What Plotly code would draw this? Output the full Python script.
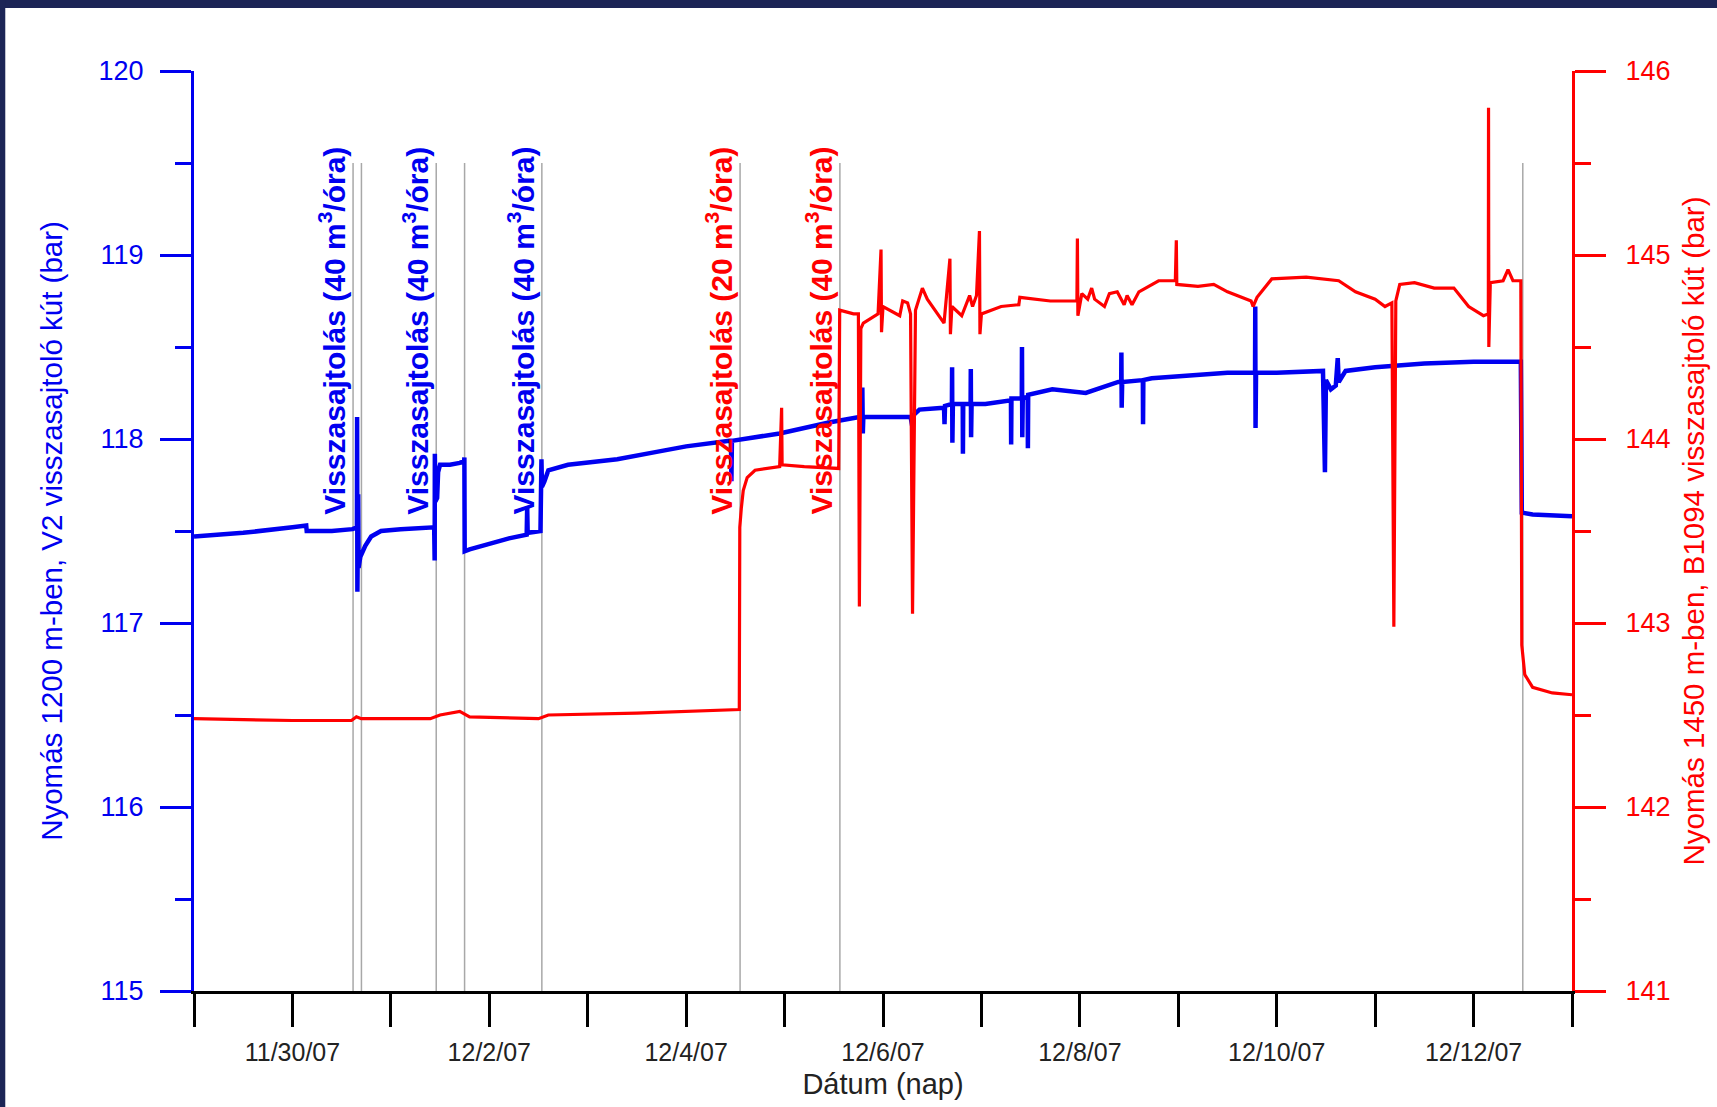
import pandas as pd
import plotly.graph_objects as go

# ---------------- data ----------------
START = pd.Timestamp("2007-11-29")

# V2 well, 1200 m (left axis) : day offset from 11/29/07 00:00, pressure (bar)
blue_days = [0.00, 0.50, 1.00, 1.14, 1.145, 1.40, 1.61, 1.655, 1.657, 1.660, 1.668, 1.672, 1.69, 1.74, 1.80, 1.90,
             2.10, 2.44, 2.445, 2.447, 2.452, 2.47, 2.48, 2.50, 2.60, 2.70, 2.745, 2.747, 2.750, 2.80, 3.00, 3.20,
             3.38, 3.385, 3.39, 3.52, 3.53, 3.535, 3.56, 3.60, 3.80, 4.00, 4.30, 4.70, 5.00, 5.44, 5.455, 5.46,
             5.465, 5.95, 6.45, 6.76, 6.785, 6.79, 6.795, 6.80, 7.28, 7.30, 7.31, 7.37, 7.62, 7.625, 7.63, 7.70,
             7.702, 7.705, 7.71, 7.81, 7.812, 7.815, 7.89, 7.892, 7.895, 7.90, 8.04, 8.30, 8.302, 8.305, 8.41,
             8.412, 8.415, 8.42, 8.47, 8.472, 8.475, 8.72, 9.06, 9.39, 9.42, 9.422, 9.425, 9.43, 9.64, 9.642,
             9.645, 9.73, 10.21, 10.50, 10.78, 10.782, 10.785, 10.79, 11.00, 11.47, 11.49, 11.50, 11.55, 11.60,
             11.62, 11.63, 11.70, 12.00, 12.50, 13.00, 13.48, 13.49, 13.60, 14.00]
blue_vals = [117.47, 117.49, 117.52, 117.53, 117.50, 117.50, 117.51, 117.52, 118.12, 117.17, 117.70, 117.30, 117.36,
             117.42, 117.47, 117.50, 117.51, 117.52, 117.34, 117.92, 117.66, 117.68, 117.82, 117.86, 117.86, 117.87,
             117.88, 117.90, 117.39, 117.40, 117.43, 117.46, 117.48, 117.63, 117.49, 117.50, 117.89, 117.74, 117.77,
             117.83, 117.86, 117.87, 117.89, 117.93, 117.96, 117.99, 117.99, 117.77, 117.99, 118.03, 118.09, 118.12,
             118.12, 118.28, 118.03, 118.12, 118.12, 118.06, 118.13, 118.16, 118.17, 118.08, 118.18, 118.19, 118.39,
             117.98, 118.19, 118.19, 117.92, 118.19, 118.19, 118.38, 118.01, 118.19, 118.19, 118.21, 117.97, 118.22,
             118.22, 118.50, 118.01, 118.22, 118.23, 117.95, 118.24, 118.27, 118.25, 118.31, 118.31, 118.47, 118.17,
             118.31, 118.32, 118.08, 118.32, 118.33, 118.35, 118.36, 118.36, 118.72, 118.06, 118.36, 118.36, 118.37,
             117.82, 118.32, 118.27, 118.29, 118.44, 118.31, 118.37, 118.39, 118.41, 118.42, 118.42, 117.60, 117.59,
             117.58]

# B1094 well, 1450 m (right axis)
red_days = [0.00, 1.00, 1.60, 1.65, 1.70, 2.40, 2.50, 2.70, 2.80, 3.50, 3.60, 4.50, 5.54, 5.545, 5.56, 5.58, 5.62,
            5.70, 5.95, 5.97, 5.975, 6.20, 6.55, 6.56, 6.70, 6.75, 6.76, 6.775, 6.80, 6.95, 6.98, 6.985, 7.00, 7.17,
            7.20, 7.25, 7.28, 7.30, 7.33, 7.37, 7.40, 7.45, 7.62, 7.68, 7.685, 7.70, 7.80, 7.88, 7.91, 7.95, 7.98,
            7.985, 8.00, 8.20, 8.38, 8.39, 8.70, 8.97, 8.975, 8.98, 9.02, 9.08, 9.12, 9.15, 9.25, 9.30, 9.38, 9.45,
            9.48, 9.53, 9.60, 9.80, 9.97, 9.98, 9.985, 10.20, 10.36, 10.50, 10.74, 10.76, 10.80, 10.95, 11.30, 11.63,
            11.80, 12.00, 12.10, 12.17, 12.19, 12.21, 12.25, 12.40, 12.60, 12.80, 12.95, 13.10, 13.15, 13.152,
            13.155, 13.17, 13.30, 13.35, 13.40, 13.48, 13.49, 13.52, 13.60, 13.80, 14.00]
red_vals = [142.48, 142.47, 142.47, 142.49, 142.48, 142.48, 142.50, 142.52, 142.49, 142.48, 142.50, 142.51, 142.53,
            143.52, 143.62, 143.72, 143.79, 143.83, 143.85, 144.17, 143.86, 143.85, 143.84, 144.70, 144.68, 144.68,
            143.09, 144.60, 144.63, 144.68, 145.03, 144.58, 144.72, 144.67, 144.75, 144.74, 144.68, 143.05, 144.70,
            144.77, 144.82, 144.76, 144.63, 144.98, 144.57, 144.72, 144.67, 144.78, 144.72, 144.78, 145.13, 144.57,
            144.68, 144.72, 144.73, 144.77, 144.75, 144.75, 145.09, 144.67, 144.79, 144.76, 144.82, 144.76, 144.72,
            144.79, 144.80, 144.73, 144.78, 144.73, 144.80, 144.86, 144.86, 145.08, 144.84, 144.83, 144.84, 144.80,
            144.75, 144.72, 144.77, 144.87, 144.88, 144.86, 144.80, 144.76, 144.72, 144.74, 142.98, 144.75, 144.84,
            144.85, 144.82, 144.82, 144.72, 144.67, 144.68, 145.80, 144.50, 144.85, 144.86, 144.92, 144.86, 144.86,
            142.88, 142.72, 142.65, 142.62, 142.61]

# injection events (day offsets) drawn as grey vertical lines
event_days = [1.616, 1.701, 2.461, 2.749, 3.534, 5.548, 6.562, 13.50]
# labelled events
label_days = [1.616, 2.461, 3.534, 5.548, 6.562]
label_texts = ["Visszasajtolás (40 m<sup>3</sup>/óra)", "Visszasajtolás (40 m<sup>3</sup>/óra)",
               "Visszasajtolás (40 m<sup>3</sup>/óra)", "Visszasajtolás (20 m<sup>3</sup>/óra)",
               "Visszasajtolás (40 m<sup>3</sup>/óra)"]
label_series = ["blue", "blue", "blue", "red", "red"]

BLUE = "#0000f0"
RED = "#ff0000"
FONT = "Liberation Sans, Arial, sans-serif"
DAY_MS = 86400000


def to_date(d):
    return (START + pd.to_timedelta(d, unit="D")).strftime("%Y-%m-%d %H:%M:%S.%f")


fig = go.Figure()
fig.add_trace(go.Scatter(x=[to_date(d) for d in red_days], y=red_vals, yaxis="y2", mode="lines",
                         line=dict(color=RED, width=3.2), showlegend=False))
fig.add_trace(go.Scatter(x=[to_date(d) for d in blue_days], y=blue_vals, yaxis="y", mode="lines",
                         line=dict(color=BLUE, width=4.5), showlegend=False))

shapes = []
for d in event_days:
    shapes.append(dict(type="line", xref="x", yref="y", x0=to_date(d), x1=to_date(d), y0=115, y1=119.5,
                       line=dict(color="#a8a8a8", width=1.5), layer="below"))
# dark frame (top and left edges)
shapes.append(dict(type="rect", xref="paper", yref="paper", x0=-0.2, x1=1.2, y0=(991 - 8) / 920, y1=1.2,
                   fillcolor="#1c2556", line=dict(width=0), layer="above"))
shapes.append(dict(type="rect", xref="paper", yref="paper", x0=-0.2, x1=(5 - 194) / 1380, y0=-0.2, y1=1.2,
                   fillcolor="#1c2556", line=dict(width=0), layer="above"))

annotations = []
for d, t, s in zip(label_days, label_texts, label_series):
    annotations.append(dict(x=to_date(d), y=119.6, xref="x", yref="y", text=t, showarrow=False,
                            textangle=-90, xanchor="center", yanchor="top", xshift=-21,
                            font=dict(family=FONT, size=30, color=BLUE if s == "blue" else RED,
                                      weight="bold")))

fig.update_layout(
    width=1717, height=1107,
    margin=dict(l=194, r=143, t=71, b=116),
    paper_bgcolor="white", plot_bgcolor="white",
    font=dict(family=FONT),
    shapes=shapes, annotations=annotations,
    xaxis=dict(type="date", range=[to_date(0), to_date(14)], showgrid=False, zeroline=False,
               showline=True, linecolor="black", linewidth=3,
               tickmode="linear", tick0="2007-11-30", dtick=2 * DAY_MS, tickformat="%-m/%-d/%y",
               ticks="outside", ticklen=33, tickwidth=3, tickcolor="black",
               minor=dict(tick0="2007-11-29", dtick=DAY_MS, ticks="outside", ticklen=33, tickwidth=3,
                          tickcolor="black", showgrid=False),
               tickfont=dict(family=FONT, size=25, color="#222222"), ticklabelstandoff=4,
               title=dict(text="Dátum (nap)", font=dict(family=FONT, size=29, color="#222222"), standoff=9)),
    yaxis=dict(range=[115, 120], showgrid=False, zeroline=False, showline=True, linecolor=BLUE, linewidth=3,
               tickmode="linear", tick0=115, dtick=1, ticks="outside", ticklen=31, tickwidth=3, tickcolor=BLUE,
               minor=dict(dtick=0.5, tick0=115, ticks="outside", ticklen=16, tickwidth=3, tickcolor=BLUE),
               tickfont=dict(family=FONT, size=27, color=BLUE), ticklabelstandoff=11,
               title=dict(text="Nyomás 1200 m-ben, V2 visszasajtoló kút (bar)",
                          font=dict(family=FONT, size=29.5, color=BLUE), standoff=28)),
    yaxis2=dict(range=[141, 146], overlaying="y", side="right", showgrid=False, zeroline=False,
                showline=True, linecolor=RED, linewidth=3,
                tickmode="linear", tick0=141, dtick=1, ticks="outside", ticklen=31, tickwidth=3, tickcolor=RED,
                minor=dict(dtick=0.5, tick0=141, ticks="outside", ticklen=16, tickwidth=3, tickcolor=RED),
                tickfont=dict(family=FONT, size=27, color=RED), ticklabelstandoff=14,
                title=dict(text="Nyomás 1450 m-ben, B1094 visszasajtoló kút (bar)",
                           font=dict(family=FONT, size=29.5, color=RED), standoff=14)),
)

fig.write_html("out.html")
